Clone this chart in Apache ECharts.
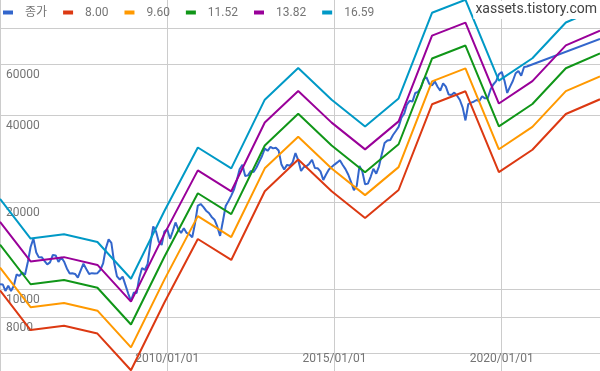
<!DOCTYPE html>
<html><head><meta charset="utf-8">
<script src="https://cdn.jsdelivr.net/npm/echarts@6/dist/echarts.min.js"></script>
<style>html,body{margin:0;padding:0;background:#fff}#c{width:600px;height:371px}</style>
</head><body><div id="c"></div>
<script>
// PER band vertex dates
const bandDates = ['2005-01-01','2005-12-01','2006-12-01','2007-12-01','2008-12-01','2009-12-01','2010-12-01','2011-12-01','2012-12-01','2013-12-01','2014-12-01','2015-12-01','2016-12-01','2017-12-01','2018-12-01','2019-12-01','2020-12-01','2021-12-01','2022-12-09'];
const band800  = [9880, 7208, 7456, 7008, 5232, 8976, 14888, 12600, 21792, 28032, 21776, 17600, 22000, 43552, 48312, 25360, 30312, 40312, 45328];
const band960  = [11856, 8650, 8947, 8410, 6278, 10771, 17866, 15120, 26150, 33638, 26131, 21120, 26400, 52262, 57974, 30432, 36374, 48374, 54394];
const band1152 = [14227, 10380, 10737, 10092, 7534, 12925, 21439, 18144, 31380, 40366, 31357, 25344, 31680, 62715, 69569, 36518, 43649, 58049, 65272];
const band1382 = [17073, 12455, 12884, 12110, 9041, 15510, 25726, 21773, 37657, 48439, 37629, 30413, 38016, 75258, 83483, 43822, 52379, 69659, 78327];
const band1659 = [20487, 14946, 15461, 14532, 10849, 18613, 30872, 26127, 45188, 58127, 45155, 36495, 45619, 90309, 100180, 52587, 62855, 83591, 93992];
// monthly close from 2005-01
const closeMonthly = [
 10390,10360,9840,10250,9840,10250,11220,11090,11400,11200,12400,13970,
 14930,13370,12860,12880,12500,12160,12360,13110,13060,12400,12860,12450,
 11780,11320,11340,11270,10950,11590,12230,11720,11270,11340,11310,11340,
 11630,12260,13800,14840,14430,12300,11050,10780,11030,10330,9640,9100,
 9720,9680,10910,11820,11630,12200,14310,16450,15820,14550,14200,15810,
 16100,14910,15810,16990,16100,15630,16230,15630,15450,15090,16920,19440,
 19670,19200,18660,18320,17750,17370,16450,15260,17190,19370,20160,21040,
 22130,23890,25960,26900,24610,24720,25600,25400,26320,27540,28850,30590,
 30060,31010,30650,30820,30140,26940,25900,26880,26700,27420,29530,27940,
 25600,26420,26570,27140,27990,26210,26160,25520,23830,24880,25920,26440,
 26940,27410,27870,26850,25990,24840,23440,21990,22720,26640,25500,23030,
 23150,24490,26050,25060,26570,29300,31980,32630,32760,34100,35210,36370,
 39130,40460,43430,44780,44490,47680,48060,49620,53200,54040,51280,50660,
 52200,50000,48590,51440,50130,47050,46900,47820,46640,45070,42420,38300,
 43650,44150,44470,45070,44710,46420,45660,45690,49020,51000,52420,55360,
 56380,52460,47680,50130,52430,55790,56800,54740,58620,58870
];
const closeLastDate = '2022-12-09';
const closeLastValue = 73300;
const seriesNames = ['종가','8.00','9.60','11.52','13.82','16.59'];
const colors = ['#3366cc','#dc3912','#ff9900','#109618','#990099','#0099c6'];
const yGrid = [6000, 8000, 10000, 20000, 40000, 60000, 80000];
const yLabelVals = [8000, 10000, 20000, 40000, 60000];
const xGrid = ['2005-01-01','2010-01-01','2015-01-01','2020-01-01'];
const xLabelVals = ['2010-01-01','2015-01-01','2020-01-01'];
const xMin = '2005-01-01', xMax = '2022-12-09';

const ts = s => { const p = s.split('-').map(Number); return new Date(p[0], p[1] - 1, p[2]).getTime(); };
const pad = n => (n < 10 ? '0' : '') + n;
const fmtDate = v => { const d = new Date(v); return d.getFullYear() + '/' + pad(d.getMonth() + 1) + '/' + pad(d.getDate()); };

const closeData = closeMonthly.map((v, i) => [new Date(2005, i, 1).getTime(), v]);
closeData.push([ts(closeLastDate), closeLastValue]);
const bands = [band800, band960, band1152, band1382, band1659];
const FONT = 'Roboto, "Noto Sans CJK KR", sans-serif';

const series = [{
  name: seriesNames[0], type: 'line', data: closeData, showSymbol: false,
  lineStyle: {width: 2, color: colors[0]}, itemStyle: {color: colors[0]}
}];
bands.forEach((b, k) => {
  series.push({
    name: seriesNames[k + 1], type: 'line',
    data: bandDates.map((d, i) => [ts(d), b[i]]), showSymbol: false,
    lineStyle: {width: 2, color: colors[k + 1]}, itemStyle: {color: colors[k + 1]}
  });
});

const chart = echarts.init(document.getElementById('c'), null, {renderer: 'canvas'});
chart.setOption({
  animation: false,
  color: colors,
  grid: {left: 0, right: 0, top: 0, bottom: 0, containLabel: false},
  legend: {
    left: 3, top: 5, padding: 0, icon: 'rect', itemWidth: 10, itemHeight: 4, itemGap: 16,
    textStyle: {fontFamily: FONT, fontSize: 12, color: '#757575', padding: [0, 0, 0, 7], lineHeight: 15},
    data: seriesNames
  },
  xAxis: {
    type: 'value', min: ts(xMin), max: ts(xMax),
    axisLine: {show: false},
    axisTick: {show: false, customValues: xGrid.map(ts)},
    splitLine: {show: true, lineStyle: {color: '#cccccc', width: 1}},
    axisLabel: {
      inside: true, margin: 6, customValues: xLabelVals.map(ts), verticalAlign: 'bottom',
      fontFamily: FONT, fontSize: 12, color: '#757575',
      formatter: v => fmtDate(v)
    }
  },
  yAxis: {
    type: 'log', logBase: 10, min: 5200, max: 100000,
    axisLine: {show: false},
    axisTick: {show: false, customValues: yGrid},
    splitLine: {show: true, lineStyle: {color: '#cccccc', width: 1}},
    axisLabel: {
      inside: true, margin: 6, customValues: yLabelVals, verticalAlign: 'top', padding: [5, 0, 0, 0],
      fontFamily: FONT, fontSize: 12, color: '#757575',
      textBorderColor: '#fff', textBorderWidth: 3,
      formatter: v => String(Math.round(v))
    }
  },
  graphic: [{
    type: 'text', right: 0, top: 1, z: 100,
    style: {text: 'xassets.tistory.com', font: '14px Roboto', fill: '#424242', backgroundColor: '#fff', padding: [1, 3, 3, 2]}
  }],
  series: series
});
</script></body></html>
